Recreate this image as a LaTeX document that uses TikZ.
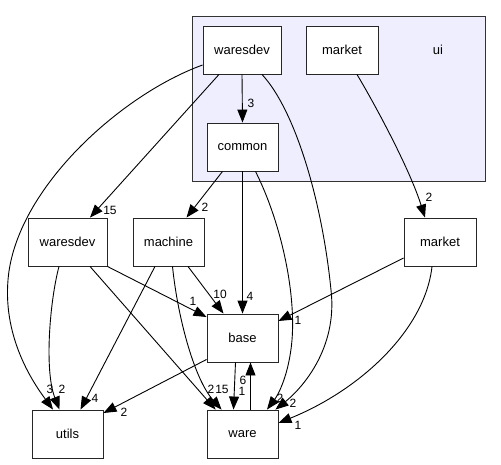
\documentclass[tikz,border=0pt]{standalone}
\usepackage{fontspec}
\setmainfont{Liberation Sans}
\usetikzlibrary{arrows.meta,calc}
\definecolor{clfill}{HTML}{EEEEFF}
\definecolor{edgec}{HTML}{000000}
\tikzset{
  box/.style={draw=black!85, fill=white, line width=0.9pt, minimum width=71pt, minimum height=48pt, inner sep=0pt, font=\fontsize{13}{15}\selectfont},
  clusterbox/.style={draw=black!80, fill=clfill, line width=0.9pt, inner sep=0pt},
  lbl/.style={inner sep=0pt, font=\fontsize{12}{14}\selectfont},
  dep/.style={draw=edgec, line width=0.9pt, -{Triangle[length=13pt,width=10pt]}},
}
\begin{document}
\begin{tikzpicture}[x=1pt,y=-1pt]
\useasboundingbox (0,0) rectangle (501,464);
% cluster
\node[clusterbox, minimum width=293pt, minimum height=165pt] (ui) at (338.5,98.5) {};
\node[font=\fontsize{13}{15}\selectfont, inner sep=0pt] (uil) at (438,50) {ui};
% nodes
\node[box, minimum width=78pt] (wui) at (242,50) {waresdev};
\node[box, minimum width=72pt] (mui) at (342,50) {market};
\node[box] (common) at (242.5,147) {common};
\node[box, minimum width=79pt] (wout) at (67.5,242) {waresdev};
\node[box] (machine) at (168.5,242) {machine};
\node[box, minimum width=72pt] (mout) at (440,242) {market};
\node[box] (base) at (242.5,338) {base};
\node[box] (utils) at (67.5,434) {utils};
\node[box] (ware) at (242.5,434) {ware};
% edges
\draw[dep] (wui.south) -- (common.north);
\draw[dep] ($(wui.south)+(-23,0)$) -- ($(wout.north)+(22.5,0)$);
\draw[dep] ($(wui.west)+(0,15)$) .. controls (120,95) and (15,190) .. (8,280)
   .. controls (3,340) and (35,385) .. ($(utils.north)+(-14.5,0)$);
\draw[dep] ($(wui.south)+(20,0)$) .. controls (295,110) and (322,200) .. (331,290)
   .. controls (338,350) and (300,390) .. ($(ware.north east)+(-3,0)$);
\draw[dep] ($(mui.south)+(15,0)$) .. controls (377,108) and (410,170) .. ($(mout.north)+(-15,0)$);
\draw[dep] ($(common.south)+(-20,0)$) -- ($(machine.north)+(18,0)$);
\draw[dep] (common.south) -- (base.north);
\draw[dep] ($(common.south)+(13,0)$) .. controls (280,220) and (296,290) .. (292,340)
   .. controls (289,375) and (278,395) .. ($(ware.north)+(24.5,0)$);
\draw[dep] (wout.south east) -- ($(base.west)+(0,-21)$);
\draw[dep] ($(wout.south)+(22.5,0)$) -- ($(ware.north west)+(9,0)$);
\draw[dep] ($(wout.south)+(-8.5,0)$) .. controls (50,300) and (44,370) .. ($(utils.north)+(-8,0)$);
\draw[dep] ($(machine.south)+(-13.5,0)$) -- ($(utils.north)+(13,0)$);
\draw[dep] ($(machine.south)+(19.5,0)$) -- ($(base.north)+(-19,0)$);
\draw[dep] ($(machine.south)+(4,0)$) .. controls (178,320) and (195,380) .. ($(ware.north west)+(15,0)$);
\draw[dep] ($(mout.west)+(0,16)$) -- ($(base.east)+(0,-17)$);
\draw[dep] ($(mout.south)+(-8,0)$) .. controls (425,330) and (360,390) .. ($(ware.east)+(0,-11)$);
\draw[dep] ($(base.south west)+(0,-3)$) -- ($(utils.east)+(0,-21)$);
\draw[dep] ($(base.south)+(-7,0)$) -- ($(ware.north)+(-9,0)$);
\draw[dep] ($(ware.north)+(8,0)$) -- ($(base.south)+(8,0)$);
% labels
\node[lbl] (l1) at (251,103) {3};
\node[lbl] (l2) at (110,210) {15};
\node[lbl] (l3) at (205,207) {2};
\node[lbl] (l4) at (429,197) {2};
\node[lbl] (l5) at (193,301) {1};
\node[lbl] (l6) at (220,294) {10};
\node[lbl] (l7) at (250,296) {4};
\node[lbl] (l8) at (298,320) {1};
\node[lbl] (l9) at (50,389) {3};
\node[lbl] (l10) at (62,389) {2};
\node[lbl] (l11) at (95,398) {4};
\node[lbl] (l12) at (124,412) {2};
\node[lbl] (l13) at (211,389) {2};
\node[lbl] (l14) at (222,389) {15};
\node[lbl] (l15) at (242,391) {1};
\node[lbl] (l16) at (243,380) {6};
\node[lbl] (l17) at (280,398) {2};
\node[lbl] (l18) at (293,403) {2};
\node[lbl] (l19) at (298,425) {1};
\end{tikzpicture}
\end{document}
